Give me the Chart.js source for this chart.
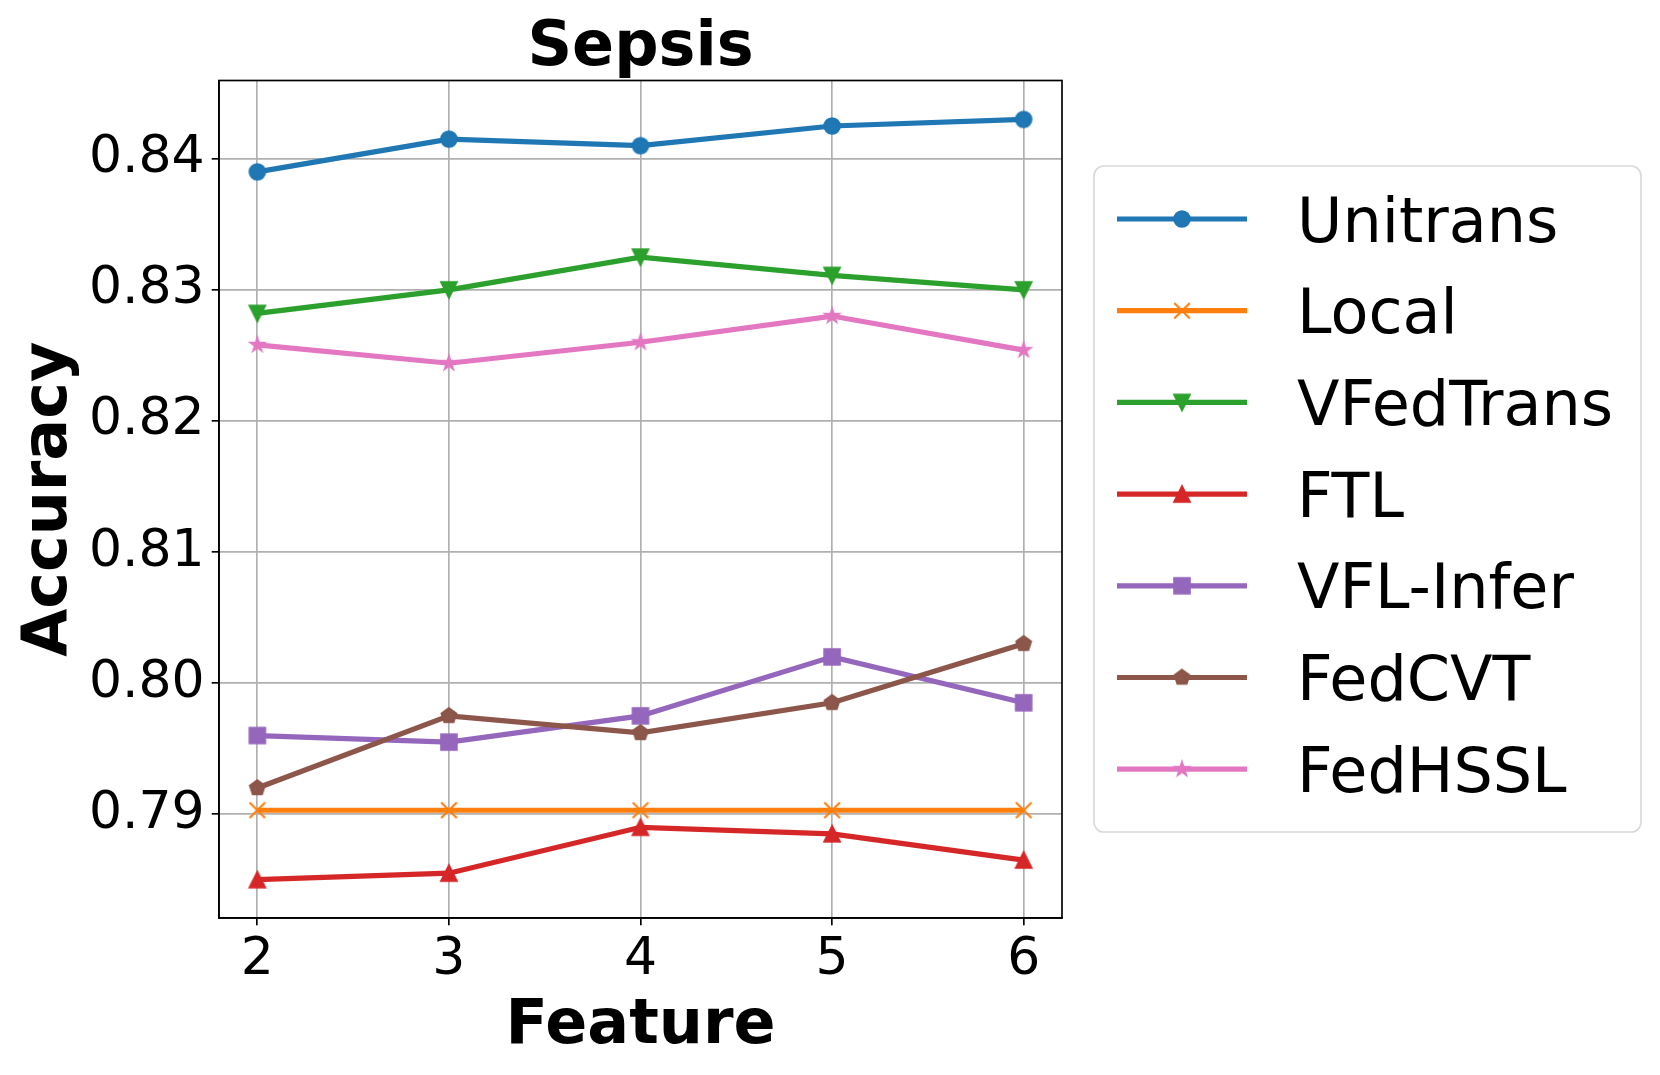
<!DOCTYPE html>
<html><head><meta charset="utf-8">
<script src="https://cdn.jsdelivr.net/npm/chart.js@4.4.0/dist/chart.umd.min.js"></script>
<style>html,body{margin:0;padding:0;background:#fff;}canvas{display:block;}</style>
</head><body>
<canvas id="c" width="1660" height="1075" style="width:1660px;height:1075px"></canvas>
<script>
const features = [2, 3, 4, 5, 6];
const xTicks = [2, 3, 4, 5, 6];
const yTicks = [0.79, 0.80, 0.81, 0.82, 0.83, 0.84];
const unitrans = [0.8390, 0.8415, 0.8410, 0.8425, 0.8430];
const local = [0.7903, 0.7903, 0.7903, 0.7903, 0.7903];
const vfedtrans = [0.8282, 0.8300, 0.8325, 0.8311, 0.8300];
const ftl = [0.7850, 0.7855, 0.7890, 0.7885, 0.7865];
const vflInfer = [0.7960, 0.7955, 0.7975, 0.8020, 0.7985];
const fedcvt = [0.7920, 0.7975, 0.7962, 0.7985, 0.8030];
const fedhssl = [0.8258, 0.8244, 0.8260, 0.8280, 0.8254];
const seriesNames = ['Unitrans', 'Local', 'VFedTrans', 'FTL', 'VFL-Infer', 'FedCVT', 'FedHSSL'];
const seriesValues = [unitrans, local, vfedtrans, ftl, vflInfer, fedcvt, fedhssl];
const seriesColors = ['#1f77b4', '#ff7f0e', '#2ca02c', '#d62728', '#9467bd', '#8c564b', '#e377c2'];
const seriesMarkers = ['circle', 'x', 'tridown', 'triup', 'square', 'pentagon', 'star'];
const titleText = 'Sepsis';
const xTitle = 'Feature';
const yTitle = 'Accuracy';

const FONT = '"DejaVu Sans", "Liberation Sans", sans-serif';
const S = 15.6; // marker size
const LW = 5.2;  // line width

function makeMarker(type, color) {
  const c = document.createElement('canvas');
  const size = 26;
  c.width = size; c.height = size;
  const g = c.getContext('2d');
  const cx = size / 2, cy = size / 2, r = S / 2;
  g.fillStyle = color; g.strokeStyle = color; g.lineWidth = 2; g.lineJoin = 'miter';
  g.beginPath();
  if (type === 'circle') {
    g.arc(cx, cy, r, 0, Math.PI * 2);
  } else if (type === 'square') {
    g.rect(cx - r, cy - r, 2 * r, 2 * r);
  } else if (type === 'triup') {
    g.moveTo(cx, cy - r); g.lineTo(cx + r, cy + r); g.lineTo(cx - r, cy + r); g.closePath();
  } else if (type === 'tridown') {
    g.moveTo(cx, cy + r); g.lineTo(cx + r, cy - r); g.lineTo(cx - r, cy - r); g.closePath();
  } else if (type === 'pentagon') {
    for (let i = 0; i < 5; i++) {
      const a = -Math.PI / 2 + i * 2 * Math.PI / 5;
      const px = cx + r * Math.cos(a), py = cy + r * Math.sin(a);
      if (i === 0) g.moveTo(px, py); else g.lineTo(px, py);
    }
    g.closePath();
  } else if (type === 'star') {
    const ro = 7.0, ri = ro * 0.381966;
    for (let i = 0; i < 10; i++) {
      const a = -Math.PI / 2 + i * Math.PI / 5;
      const rr = i % 2 === 0 ? ro : ri;
      const px = cx + rr * Math.cos(a), py = cy + rr * Math.sin(a);
      if (i === 0) g.moveTo(px, py); else g.lineTo(px, py);
    }
    g.closePath();
  } else if (type === 'x') {
    g.moveTo(cx - r, cy - r); g.lineTo(cx + r, cy + r);
    g.moveTo(cx + r, cy - r); g.lineTo(cx - r, cy + r);
    g.lineWidth = 2.1;
    g.stroke();
    return c;
  }
  g.fill(); g.stroke();
  return c;
}

const markerImgs = seriesMarkers.map((m, i) => makeMarker(m, seriesColors[i]));

const datasets = seriesNames.map((name, i) => ({
  label: name,
  data: features.map((f, j) => ({ x: f, y: seriesValues[i][j] })),
  borderColor: seriesColors[i],
  backgroundColor: seriesColors[i],
  borderWidth: LW,
  pointStyle: markerImgs[i],
  pointRadius: 8,
  pointHoverRadius: 8,
  tension: 0,
  fill: false,
  order: seriesNames.length - i,
  clip: false
}));

const PLOT = { left: 219, right: 1062, top: 80.5, bottom: 918 };

const decorPlugin = {
  id: 'decor',
  afterDatasetsDraw(chart) {
    const ctx = chart.ctx;
    const a = chart.chartArea;
    ctx.save();
    // frame
    ctx.strokeStyle = '#000';
    ctx.lineWidth = 1.67;
    ctx.strokeRect(a.left, a.top, a.right - a.left, a.bottom - a.top);
    // title and axis titles
    ctx.fillStyle = '#000';
    ctx.textAlign = 'center';
    ctx.textBaseline = 'alphabetic';
    ctx.font = 'bold 62px ' + FONT;
    ctx.fillText(titleText, (a.left + a.right) / 2, 65);
    ctx.fillText(xTitle, (a.left + a.right) / 2, 1043);
    ctx.save();
    ctx.translate(66, (a.top + a.bottom) / 2);
    ctx.rotate(-Math.PI / 2);
    ctx.fillText(yTitle, 0, 0);
    ctx.restore();
    // legend
    const bx = 1094, by = 166, bw = 547, bh = 666, br = 10;
    ctx.beginPath();
    ctx.moveTo(bx + br, by);
    ctx.arcTo(bx + bw, by, bx + bw, by + bh, br);
    ctx.arcTo(bx + bw, by + bh, bx, by + bh, br);
    ctx.arcTo(bx, by + bh, bx, by, br);
    ctx.arcTo(bx, by, bx + bw, by, br);
    ctx.closePath();
    ctx.fillStyle = 'rgba(255,255,255,0.8)';
    ctx.fill();
    ctx.strokeStyle = '#d9d9d9';
    ctx.lineWidth = 1.67;
    ctx.stroke();
    ctx.font = '62px ' + FONT;
    ctx.textAlign = 'left';
    seriesNames.forEach((name, i) => {
      const y = 219 + i * 91.7;
      ctx.strokeStyle = seriesColors[i];
      ctx.lineWidth = LW;
      ctx.beginPath();
      ctx.moveTo(1117, y); ctx.lineTo(1247, y);
      ctx.stroke();
      const img = markerImgs[i];
      ctx.drawImage(img, 1182 - img.width / 2, y - img.height / 2);
      ctx.fillStyle = '#000';
      ctx.fillText(name, 1297, y + 22.6);
    });
    ctx.restore();
  }
};

new Chart(document.getElementById('c'), {
  type: 'line',
  data: { datasets },
  options: {
    responsive: false,
    animation: false,
    devicePixelRatio: 1,
    layout: { padding: { left: 0, top: PLOT.top, right: 1660 - PLOT.right, bottom: 0 } },
    plugins: { legend: { display: false }, title: { display: false }, tooltip: { enabled: false } },
    scales: {
      x: {
        type: 'linear',
        min: 1.8, max: 6.2,
        afterBuildTicks: (s) => { s.ticks = xTicks.map(v => ({ value: v })); },
        afterFit: (s) => { s.height = 1075 - PLOT.bottom; },
        grid: { color: '#b0b0b0', lineWidth: 1.67, tickColor: '#000', tickLength: 7.3, tickWidth: 1.67 },
        border: { display: true, color: '#000', width: 1.67 },
        ticks: { color: '#000', font: { family: FONT, size: 52 }, padding: 4, maxRotation: 0, autoSkip: false,
          callback: (v) => String(v) }
      },
      y: {
        type: 'linear',
        min: 0.78208, max: 0.84597,
        afterBuildTicks: (s) => { s.ticks = yTicks.map(v => ({ value: v })); },
        afterFit: (s) => { s.width = PLOT.left; },
        grid: { color: '#b0b0b0', lineWidth: 1.67, tickColor: '#000', tickLength: 7.3, tickWidth: 1.67 },
        border: { display: true, color: '#000', width: 1.67 },
        ticks: { color: '#000', font: { family: FONT, size: 52 }, padding: 7, autoSkip: false,
          callback: (v) => Number(v).toFixed(2) }
      }
    }
  },
  plugins: [decorPlugin]
});
</script>
</body></html>
